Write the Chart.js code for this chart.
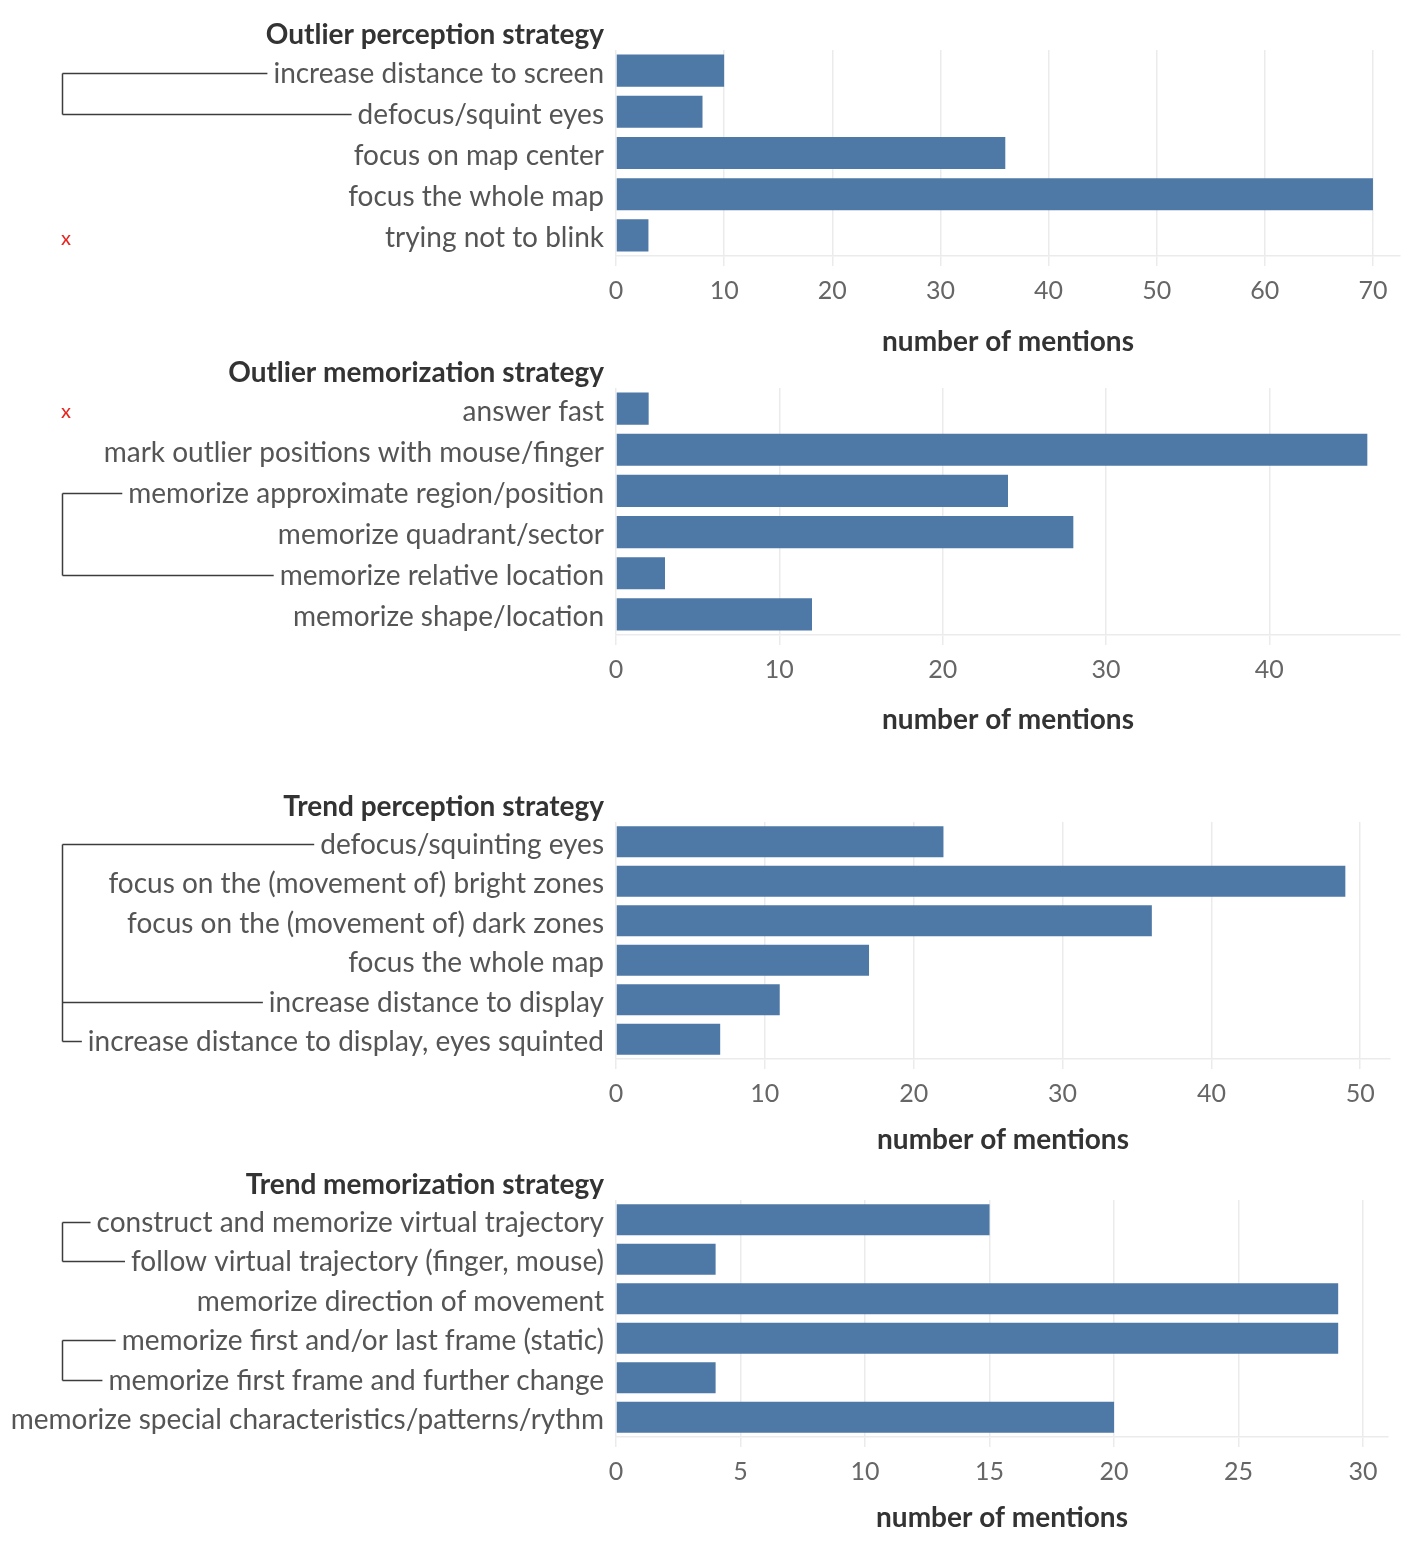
<!DOCTYPE html>
<html>
<head>
<meta charset="utf-8">
<script src="https://cdn.jsdelivr.net/npm/chart.js@4.4.1/dist/chart.umd.min.js"></script>
<style>
  html, body { margin: 0; background: #ffffff; }
  #page { position: relative; width: 1420px; height: 1550px; }
  canvas { position: absolute; left: 0; }
</style>
</head>
<body>
<div id="page">
  <canvas id="c1"></canvas>
  <canvas id="c2"></canvas>
  <canvas id="c3"></canvas>
  <canvas id="c4"></canvas>
</div>
<script>
// ---- data ----
const outlierPerceptionLabels = ['increase distance to screen', 'defocus/squint eyes', 'focus on map center',
  'focus the whole map', 'trying not to blink'];
const outlierPerceptionValues = [10, 8, 36, 70, 3];
const outlierPerceptionMax = 72.5, outlierPerceptionStep = 10;
const outlierPerceptionGroups = [[0, 1]];
const outlierPerceptionCrossed = [4];

const outlierMemorizationLabels = ['answer fast', 'mark outlier positions with mouse/finger',
  'memorize approximate region/position', 'memorize quadrant/sector', 'memorize relative location',
  'memorize shape/location'];
const outlierMemorizationValues = [2, 46, 24, 28, 3, 12];
const outlierMemorizationMax = 48, outlierMemorizationStep = 10;
const outlierMemorizationGroups = [[2, 4]];
const outlierMemorizationCrossed = [0];

const trendPerceptionLabels = ['defocus/squinting eyes', 'focus on the (movement of) bright zones',
  'focus on the (movement of) dark zones', 'focus the whole map', 'increase distance to display',
  'increase distance to display, eyes squinted'];
const trendPerceptionValues = [22, 49, 36, 17, 11, 7];
const trendPerceptionMax = 52, trendPerceptionStep = 10;
const trendPerceptionGroups = [[0, 4, 5]];
const trendPerceptionCrossed = [];

const trendMemorizationLabels = ['construct and memorize virtual trajectory', 'follow virtual trajectory (finger, mouse)',
  'memorize direction of movement', 'memorize first and/or last frame (static)',
  'memorize first frame and further change', 'memorize special characteristics/patterns/rythm'];
const trendMemorizationValues = [15, 4, 29, 29, 4, 20];
const trendMemorizationMax = 31, trendMemorizationStep = 5;
const trendMemorizationGroups = [[0, 1], [3, 4]];
const trendMemorizationCrossed = [];

// ---- styling ----
const FONT = 'Lato';
const LABEL_SIZE = 28;
const BAR = '#4e79a7';
const GRID = '#ebebeb';
const LABEL_PAD = 12;
const LABEL_SHIFT = 3;
const PLOT_LEFT = 616;

// draws the panel title, the brackets on the left and the red crosses
const strategyNotes = {
  id: 'strategyNotes',
  afterDraw(chart, args, opts) {
    const ctx = chart.ctx, y = chart.scales.y, area = chart.chartArea;
    const labelRight = y.right - LABEL_PAD;
    ctx.save();
    ctx.textAlign = 'right';
    ctx.textBaseline = 'middle';
    ctx.fillStyle = '#333333';
    ctx.font = 'bold 28px ' + FONT;
    ctx.fillText(opts.title, labelRight, area.top - 15);

    ctx.font = LABEL_SIZE + 'px ' + FONT;
    ctx.strokeStyle = '#3c3c3c';
    ctx.lineWidth = 1.5;
    opts.groups.forEach(rows => {
      const ys = rows.map(r => Math.round(y.getPixelForValue(r)) + 2.5);
      ctx.beginPath();
      ctx.moveTo(62.5, ys[0]);
      ctx.lineTo(62.5, ys[ys.length - 1]);
      rows.forEach((r, k) => {
        const w = ctx.measureText(chart.data.labels[r]).width;
        ctx.moveTo(62.5, ys[k]);
        ctx.lineTo(labelRight - w - 6, ys[k]);
      });
      ctx.stroke();
    });

    ctx.fillStyle = '#e8231f';
    ctx.font = '20px ' + FONT;
    ctx.textAlign = 'center';
    opts.crossed.forEach(r => ctx.fillText('x', 66, y.getPixelForValue(r) + LABEL_SHIFT));
    ctx.restore();
  }
};

function makeChart(id, layout, title, labels, values, max, step, groups, crossed) {
  const canvas = document.getElementById(id);
  const top = layout.plotTop - 50;
  canvas.width = 1420;
  canvas.height = layout.axisTitleY + 17 - top;
  canvas.style.top = top + 'px';
  const axisH = layout.axisTitleY + 17 - layout.plotBottom;

  new Chart(canvas, {
    type: 'bar',
    data: {
      labels: labels,
      datasets: [{
        data: values,
        backgroundColor: BAR,
        borderWidth: 0,
        categoryPercentage: 1,
        barPercentage: layout.barPct
      }]
    },
    plugins: [strategyNotes],
    options: {
      indexAxis: 'y',
      responsive: false,
      animation: false,
      layout: { padding: { top: 50, right: 1420 - layout.plotRight, bottom: 0, left: 0 } },
      plugins: {
        legend: { display: false },
        tooltip: { enabled: false },
        strategyNotes: { title: title, groups: groups, crossed: crossed }
      },
      scales: {
        x: {
          min: 0,
          max: max,
          afterFit: s => { s.height = axisH; },
          grid: { color: GRID, lineWidth: 1.5, drawTicks: true, tickLength: 10, tickColor: GRID },
          border: { display: true, color: GRID, width: 1.5 },
          ticks: {
            stepSize: step,
            includeBounds: false,
            padding: 10,
            color: '#666666',
            font: { family: FONT, size: 25 }
          },
          title: {
            display: true,
            text: 'number of mentions',
            color: '#333333',
            padding: { top: 0, bottom: 0 },
            font: { family: FONT, size: 28, weight: 'bold' }
          }
        },
        y: {
          afterFit: s => { s.width = PLOT_LEFT; },
          grid: { display: false, drawTicks: false },
          border: { display: false },
          ticks: {
            autoSkip: false,
            padding: LABEL_PAD,
            labelOffset: LABEL_SHIFT,
            color: '#555555',
            font: { family: FONT, size: LABEL_SIZE }
          }
        }
      }
    }
  });
}

makeChart('c1', { plotTop: 50, plotBottom: 256, axisTitleY: 342, plotRight: 1400, barPct: 0.78 },
  'Outlier perception strategy', outlierPerceptionLabels, outlierPerceptionValues,
  outlierPerceptionMax, outlierPerceptionStep, outlierPerceptionGroups, outlierPerceptionCrossed);
makeChart('c2', { plotTop: 388, plotBottom: 635, axisTitleY: 720, plotRight: 1400, barPct: 0.78 },
  'Outlier memorization strategy', outlierMemorizationLabels, outlierMemorizationValues,
  outlierMemorizationMax, outlierMemorizationStep, outlierMemorizationGroups, outlierMemorizationCrossed);
makeChart('c3', { plotTop: 822, plotBottom: 1059, axisTitleY: 1140, plotRight: 1390, barPct: 0.785 },
  'Trend perception strategy', trendPerceptionLabels, trendPerceptionValues,
  trendPerceptionMax, trendPerceptionStep, trendPerceptionGroups, trendPerceptionCrossed);
makeChart('c4', { plotTop: 1200, plotBottom: 1437, axisTitleY: 1518, plotRight: 1388, barPct: 0.785 },
  'Trend memorization strategy', trendMemorizationLabels, trendMemorizationValues,
  trendMemorizationMax, trendMemorizationStep, trendMemorizationGroups, trendMemorizationCrossed);
</script>
</body>
</html>
